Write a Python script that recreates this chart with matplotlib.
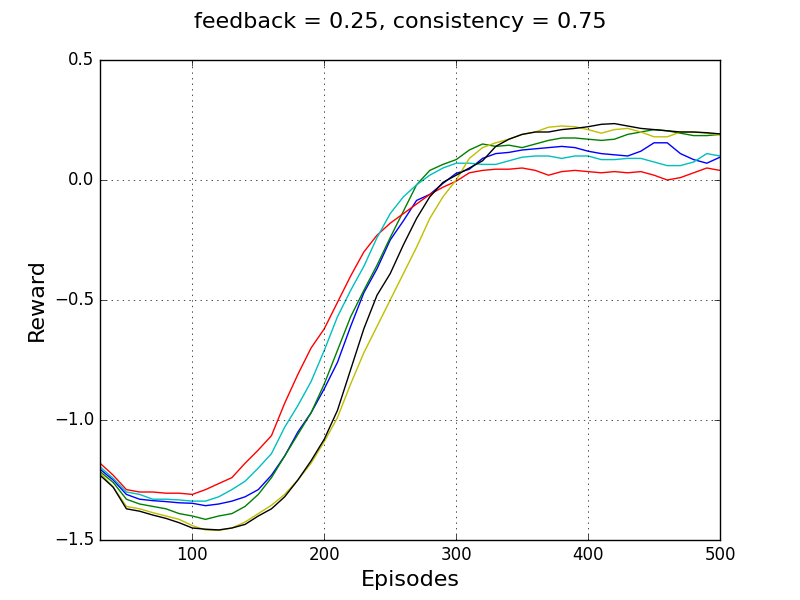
import matplotlib
matplotlib.use("Agg")
import matplotlib.pyplot as plt

plt.style.use("classic")

episodes = [30, 40, 50, 60, 70, 80, 90, 100, 110, 120, 130, 140, 150, 160, 170, 180,
            190, 200, 210, 220, 230, 240, 250, 260, 270, 280, 290, 300, 310, 320, 330,
            340, 350, 360, 370, 380, 390, 400, 410, 420, 430, 440, 450, 460, 470, 480,
            490, 500]

reward_b = [-1.205, -1.25, -1.31, -1.33, -1.336, -1.34, -1.345, -1.347, -1.357, -1.35,
            -1.338, -1.32, -1.29, -1.23, -1.15, -1.05, -0.97, -0.87, -0.76, -0.61,
            -0.47, -0.37, -0.25, -0.17, -0.085, -0.06, -0.014, 0.028, 0.045, 0.09,
            0.11, 0.115, 0.125, 0.13, 0.135, 0.14, 0.135, 0.12, 0.11, 0.105, 0.10,
            0.12, 0.155, 0.155, 0.11, 0.085, 0.07, 0.095]

reward_g = [-1.215, -1.26, -1.33, -1.35, -1.36, -1.37, -1.39, -1.40, -1.414, -1.40,
            -1.39, -1.36, -1.31, -1.24, -1.15, -1.06, -0.97, -0.85, -0.71, -0.57,
            -0.46, -0.355, -0.24, -0.13, -0.02, 0.04, 0.065, 0.085, 0.125, 0.15,
            0.14, 0.145, 0.135, 0.15, 0.165, 0.175, 0.175, 0.17, 0.165, 0.17, 0.19,
            0.20, 0.21, 0.205, 0.195, 0.185, 0.185, 0.19]

reward_r = [-1.18, -1.23, -1.29, -1.30, -1.30, -1.305, -1.305, -1.31, -1.29, -1.265,
            -1.24, -1.18, -1.125, -1.065, -0.93, -0.81, -0.70, -0.62, -0.51, -0.40,
            -0.30, -0.23, -0.18, -0.14, -0.10, -0.06, -0.03, -0.005, 0.03, 0.04,
            0.045, 0.045, 0.05, 0.04, 0.02, 0.035, 0.04, 0.035, 0.03, 0.035, 0.03,
            0.035, 0.02, 0.0, 0.01, 0.03, 0.05, 0.04]

reward_c = [-1.195, -1.243, -1.30, -1.31, -1.33, -1.33, -1.333, -1.338, -1.338, -1.32,
            -1.29, -1.255, -1.20, -1.14, -1.03, -0.94, -0.84, -0.71, -0.57, -0.46,
            -0.36, -0.24, -0.14, -0.07, -0.02, 0.02, 0.05, 0.07, 0.07, 0.065, 0.065,
            0.08, 0.095, 0.10, 0.10, 0.09, 0.10, 0.10, 0.085, 0.085, 0.09, 0.09,
            0.075, 0.06, 0.06, 0.075, 0.11, 0.10]

reward_y = [-1.22, -1.28, -1.36, -1.37, -1.386, -1.40, -1.414, -1.44, -1.458, -1.46,
            -1.45, -1.425, -1.39, -1.355, -1.31, -1.25, -1.18, -1.09, -0.99, -0.85,
            -0.72, -0.61, -0.50, -0.39, -0.28, -0.16, -0.07, 0.0, 0.09, 0.135, 0.155,
            0.17, 0.19, 0.20, 0.22, 0.225, 0.222, 0.21, 0.195, 0.21, 0.215, 0.20,
            0.18, 0.18, 0.20, 0.20, 0.195, 0.188]

reward_k = [-1.23, -1.28, -1.37, -1.38, -1.396, -1.41, -1.428, -1.45, -1.455, -1.458,
            -1.45, -1.435, -1.40, -1.37, -1.32, -1.25, -1.17, -1.08, -0.96, -0.79,
            -0.62, -0.48, -0.39, -0.27, -0.16, -0.07, -0.01, 0.02, 0.05, 0.08, 0.14,
            0.17, 0.19, 0.20, 0.20, 0.21, 0.215, 0.222, 0.232, 0.235, 0.225, 0.215,
            0.21, 0.205, 0.20, 0.20, 0.197, 0.192]

fig = plt.figure(figsize=(8, 6), dpi=100)
ax = fig.add_subplot(111)
fig.subplots_adjust(left=0.125, right=0.9, bottom=0.1, top=0.9)

for rewards, col in [(reward_b, 'b'), (reward_g, 'g'), (reward_r, 'r'),
                     (reward_c, 'c'), (reward_y, 'y'), (reward_k, 'k')]:
    ax.plot(episodes, rewards, color=col, linewidth=1)

ax.set_xlim(30, 500)
ax.set_ylim(-1.5, 0.5)
ax.set_xticks([100, 200, 300, 400, 500])
ax.set_yticks([-1.5, -1.0, -0.5, 0.0, 0.5])
ax.grid(True, linestyle=':', color='k')
ax.tick_params(labelsize=12)
ax.set_xlabel('Episodes', fontsize=16)
ax.set_ylabel('Reward', fontsize=16)
fig.suptitle('feedback = 0.25, consistency = 0.75', fontsize=16, y=0.98)

fig.savefig('out.png', dpi=100)
